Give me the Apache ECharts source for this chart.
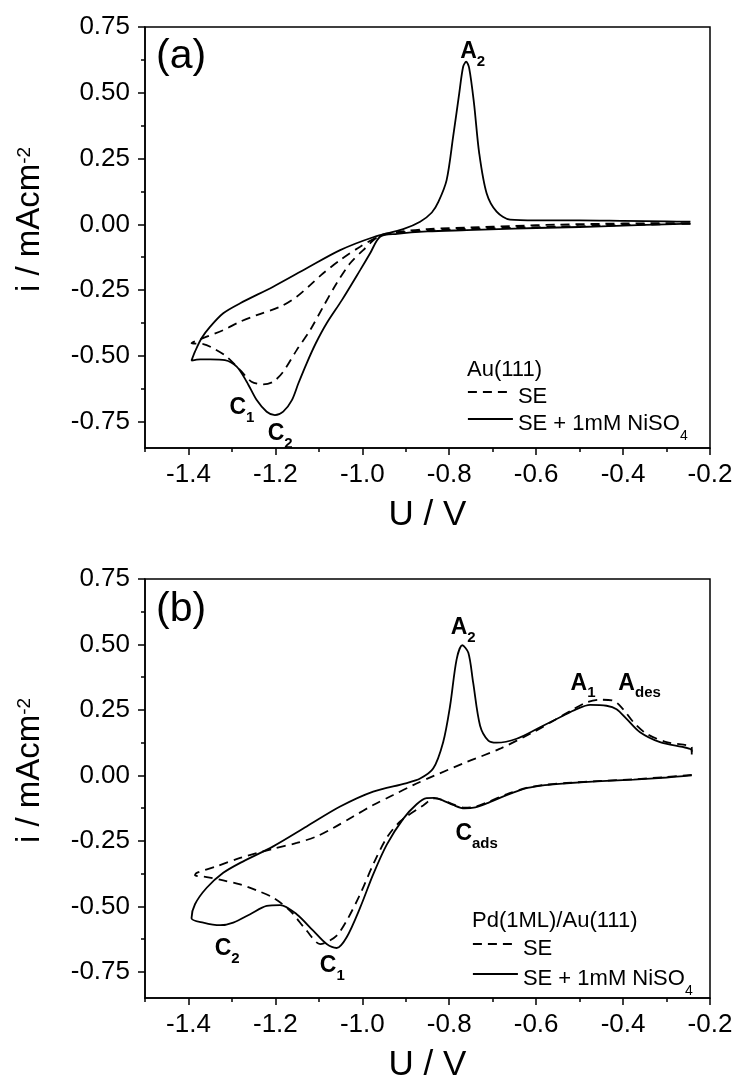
<!DOCTYPE html>
<html><head><meta charset="utf-8">
<script src="https://cdn.jsdelivr.net/npm/echarts@6/dist/echarts.min.js"></script>
<style>html,body{margin:0;padding:0;background:#fff}#c{width:736px;height:1084px}</style>
</head><body><div id="c"></div>
<script>
const FONT = "'Liberation Sans', Arial, Helvetica, sans-serif";

// ---- tick values / labels ----
const xMajorTicks = [-1.4, -1.2, -1.0, -0.8, -0.6, -0.4, -0.2];
const xMinorTicks = [-1.5, -1.3, -1.1, -0.9, -0.7, -0.5, -0.3];
const yMajorTicks = [-0.75, -0.5, -0.25, 0, 0.25, 0.5, 0.75];
const yMinorTicks = [-0.625, -0.375, -0.125, 0.125, 0.375, 0.625];
const xRange = [-1.5, -0.2];
const yRange = [-0.85, 0.75];

// ---- series names ----
const nameSE = 'SE';
const nameNi = 'SE + 1mM NiSO4';
const panelTitles = ['Au(111)', 'Pd(1ML)/Au(111)'];
const panelTags = ['(a)', '(b)'];

// ---- panel (a): Au(111), [U (V), i (mA cm^-2)] ----
const aSE = [
  [-0.245, 0.002], [-0.35, -0.001], [-0.45, -0.005], [-0.55, -0.009], [-0.65, -0.013],
  [-0.75, -0.018], [-0.85, -0.024], [-0.92, -0.032], [-0.959, -0.042], [-0.998, -0.098],
  [-1.028, -0.148], [-1.059, -0.224], [-1.090, -0.313], [-1.120, -0.402], [-1.151, -0.478],
  [-1.182, -0.560], [-1.205, -0.598], [-1.228, -0.608], [-1.255, -0.598], [-1.281, -0.554],
  [-1.312, -0.503], [-1.343, -0.471], [-1.366, -0.455], [-1.393, -0.452], [-1.358, -0.427],
  [-1.320, -0.402], [-1.281, -0.370], [-1.243, -0.345], [-1.189, -0.313], [-1.151, -0.275],
  [-1.120, -0.231], [-1.090, -0.186], [-1.051, -0.136], [-1.005, -0.085], [-0.959, -0.044],
  [-0.913, -0.028], [-0.85, -0.018], [-0.75, -0.012], [-0.65, -0.006], [-0.55, -0.001],
  [-0.45, 0.002], [-0.35, 0.004], [-0.245, 0.005]
];
const aNi = [
  [-0.245, 0.003], [-0.35, -0.002], [-0.45, -0.008], [-0.55, -0.012], [-0.65, -0.016],
  [-0.76, -0.022], [-0.85, -0.027], [-0.92, -0.036], [-0.959, -0.047], [-0.982, -0.110],
  [-1.005, -0.174], [-1.047, -0.288], [-1.082, -0.376], [-1.107, -0.452], [-1.128, -0.528],
  [-1.147, -0.604], [-1.162, -0.668], [-1.182, -0.712], [-1.201, -0.725],
  [-1.220, -0.712], [-1.243, -0.668], [-1.266, -0.598], [-1.289, -0.541], [-1.316, -0.516],
  [-1.350, -0.513], [-1.373, -0.513], [-1.393, -0.518], [-1.385, -0.484], [-1.370, -0.433],
  [-1.350, -0.389], [-1.320, -0.338], [-1.281, -0.300], [-1.205, -0.237], [-1.128, -0.167],
  [-1.051, -0.098], [-0.975, -0.049], [-0.906, -0.018], [-0.867, 0.010], [-0.840, 0.045],
  [-0.825, 0.085], [-0.806, 0.168], [-0.791, 0.333], [-0.777, 0.498], [-0.768, 0.599],
  [-0.761, 0.618], [-0.754, 0.593], [-0.743, 0.460], [-0.731, 0.270], [-0.714, 0.118],
  [-0.691, 0.048], [-0.660, 0.018], [-0.60, 0.015], [-0.50, 0.015], [-0.40, 0.013],
  [-0.30, 0.011], [-0.245, 0.010]
];

// ---- panel (b): Pd(1ML)/Au(111) ----
const bSE = [
  [-0.242, 0.002], [-0.30, -0.006], [-0.376, -0.015], [-0.45, -0.021], [-0.53, -0.029],
  [-0.58, -0.036], [-0.62, -0.047], [-0.668, -0.072], [-0.714, -0.104], [-0.740, -0.119],
  [-0.765, -0.123], [-0.791, -0.111], [-0.815, -0.094], [-0.835, -0.088], [-0.860, -0.115],
  [-0.913, -0.176], [-0.944, -0.239], [-0.975, -0.340], [-1.005, -0.454], [-1.036, -0.555],
  [-1.059, -0.612], [-1.082, -0.637], [-1.097, -0.644], [-1.128, -0.593], [-1.166, -0.517],
  [-1.205, -0.467], [-1.243, -0.439], [-1.281, -0.416], [-1.320, -0.401], [-1.358, -0.388],
  [-1.385, -0.381], [-1.381, -0.372], [-1.335, -0.347], [-1.281, -0.315], [-1.205, -0.280],
  [-1.151, -0.258], [-1.105, -0.233], [-1.067, -0.201], [-1.021, -0.157], [-0.975, -0.113],
  [-0.929, -0.075], [-0.883, -0.037], [-0.837, -0.003], [-0.760, 0.051], [-0.683, 0.102],
  [-0.607, 0.165], [-0.560, 0.209], [-0.514, 0.253], [-0.484, 0.279], [-0.453, 0.289],
  [-0.422, 0.285], [-0.400, 0.253], [-0.376, 0.203], [-0.346, 0.159], [-0.300, 0.127],
  [-0.242, 0.108], [-0.242, 0.090]
];
const bNi = [
  [-0.242, 0.000], [-0.30, -0.008], [-0.376, -0.016], [-0.45, -0.022], [-0.53, -0.030],
  [-0.58, -0.037], [-0.62, -0.048], [-0.668, -0.075], [-0.714, -0.107], [-0.740, -0.122],
  [-0.765, -0.126], [-0.791, -0.113], [-0.815, -0.095], [-0.835, -0.086], [-0.852, -0.087],
  [-0.875, -0.110], [-0.906, -0.166], [-0.944, -0.265], [-0.975, -0.378], [-1.005, -0.505],
  [-1.036, -0.618], [-1.059, -0.659], [-1.082, -0.644], [-1.113, -0.593], [-1.151, -0.530],
  [-1.189, -0.495], [-1.220, -0.498], [-1.258, -0.530], [-1.297, -0.562], [-1.327, -0.572],
  [-1.366, -0.562], [-1.393, -0.545], [-1.385, -0.492], [-1.358, -0.429], [-1.320, -0.372],
  [-1.281, -0.334], [-1.205, -0.271], [-1.128, -0.195], [-1.051, -0.119], [-0.975, -0.062],
  [-0.900, -0.030], [-0.867, -0.012], [-0.837, 0.026], [-0.814, 0.127], [-0.798, 0.266],
  [-0.783, 0.443], [-0.770, 0.497], [-0.756, 0.468], [-0.745, 0.355], [-0.729, 0.190],
  [-0.710, 0.133], [-0.691, 0.125], [-0.645, 0.140], [-0.591, 0.184], [-0.545, 0.222],
  [-0.507, 0.253], [-0.476, 0.269], [-0.438, 0.266], [-0.415, 0.253], [-0.392, 0.216],
  [-0.361, 0.165], [-0.315, 0.127], [-0.242, 0.095], [-0.242, 0.080]
];

// ---- peak annotations: [main, subscript, U, i] ----
const aPeaks = [
  ['A', '2', -0.746, 0.653],
  ['C', '1', -1.277, -0.700],
  ['C', '2', -1.189, -0.799]
];
const bPeaks = [
  ['A', '2', -0.768, 0.559],
  ['A', '1', -0.492, 0.348],
  ['A', 'des', -0.362, 0.348],
  ['C', 'ads', -0.737, -0.226],
  ['C', '2', -1.311, -0.666],
  ['C', '1', -1.069, -0.732]
];

// ---------------- build option ----------------
const BLACK = '#000';
const grids = [
  {left: 145, top: 27, width: 565, height: 421},
  {left: 145, top: 579, width: 565, height: 422}
].map(g => Object.assign(g, {show: true, borderColor: BLACK, borderWidth: 1.5, backgroundColor: 'transparent'}));

function xAxesFor(g) {
  return [
    {type: 'value', gridIndex: g, min: xRange[0], max: xRange[1], position: 'bottom',
     axisLine: {show: true, onZero: false, lineStyle: {color: BLACK, width: 1.5}},
     axisTick: {show: true, inside: false, length: 7, customValues: xMajorTicks, lineStyle: {color: BLACK, width: 1.5}},
     axisLabel: {show: true, customValues: xMajorTicks, margin: 14, fontSize: 26, color: BLACK, fontFamily: FONT,
                 formatter: v => v.toFixed(1)},
     splitLine: {show: false},
     name: 'U / V', nameLocation: 'middle', nameGap: 50,
     nameTextStyle: {fontSize: 35, color: BLACK, fontFamily: FONT}},
    {type: 'value', gridIndex: g, min: xRange[0], max: xRange[1], position: 'bottom',
     axisLine: {show: false, onZero: false},
     axisTick: {show: true, inside: false, length: 4, customValues: xMinorTicks, lineStyle: {color: BLACK, width: 1.5}},
     axisLabel: {show: false}, splitLine: {show: false}}
  ];
}
function yAxesFor(g) {
  return [
    {type: 'value', gridIndex: g, min: yRange[0], max: yRange[1], position: 'left',
     axisLine: {show: true, onZero: false, lineStyle: {color: BLACK, width: 1.5}},
     axisTick: {show: true, inside: false, length: 7, customValues: yMajorTicks, lineStyle: {color: BLACK, width: 1.5}},
     axisLabel: {show: true, customValues: yMajorTicks, margin: 15, fontSize: 26, color: BLACK, fontFamily: FONT,
                 formatter: v => v.toFixed(2)},
     splitLine: {show: false},
     name: '{t|i / mAcm}{s|-2}', nameLocation: 'middle', nameGap: 96,
     nameTextStyle: {color: BLACK, fontFamily: FONT, fontSize: 33, padding: [0, 0, 0, 36],
       rich: {t: {fontSize: 33, lineHeight: 38, fontFamily: FONT, color: BLACK},
              s: {fontSize: 19, lineHeight: 20, verticalAlign: 'top', padding: [4, 0, 0, 0], fontFamily: FONT, color: BLACK}}}},
    {type: 'value', gridIndex: g, min: yRange[0], max: yRange[1], position: 'left',
     axisLine: {show: false, onZero: false},
     axisTick: {show: true, inside: false, length: 4, customValues: yMinorTicks, lineStyle: {color: BLACK, width: 1.5}},
     axisLabel: {show: false}, splitLine: {show: false}}
  ];
}

const peakRich = {
  m: {fontSize: 23, fontWeight: 'bold', lineHeight: 25, verticalAlign: 'top', fontFamily: FONT, color: BLACK},
  s: {fontSize: 15, fontWeight: 'bold', lineHeight: 15, verticalAlign: 'top', padding: [14, 0, 0, 0], fontFamily: FONT, color: BLACK}
};
function peakMarks(list) {
  return {
    symbol: 'circle', symbolSize: 1, silent: true, animation: false,
    itemStyle: {color: 'rgba(0,0,0,0)'},
    label: {show: true, position: 'inside', color: BLACK, fontFamily: FONT, rich: peakRich},
    data: list.map(p => ({coord: [p[2], p[3]], label: {formatter: '{m|' + p[0] + '}{s|' + p[1] + '}'}}))
  };
}
function lineSeries(name, data, axisIdx, dashed, marks) {
  const s = {
    type: 'line', name: name, data: data, xAxisIndex: axisIdx, yAxisIndex: axisIdx,
    symbol: 'none', showSymbol: false, smooth: 0.3, animation: false, silent: true,
    lineStyle: {color: BLACK, width: 1.8, type: dashed ? [9, 6] : 'solid'},
    itemStyle: {color: BLACK}, z: dashed ? 3 : 4
  };
  if (marks) s.markPoint = peakMarks(marks);
  return s;
}

const legendRich = {
  t: {fontSize: 22, lineHeight: 24, verticalAlign: 'top', padding: [6, 0, 0, 0], fontFamily: FONT, color: BLACK},
  s: {fontSize: 14, lineHeight: 14, verticalAlign: 'top', padding: [22, 0, 0, 0], fontFamily: FONT, color: BLACK}
};
function legendItem(name, left, centerY) {
  return {
    data: [name], left: left, top: centerY - 18, padding: 0, orient: 'vertical',
    itemWidth: 45, itemHeight: 14, selectedMode: false,
    itemStyle: {color: 'rgba(0,0,0,0)', borderColor: 'rgba(0,0,0,0)', borderWidth: 0, opacity: 0},
    lineStyle: {color: BLACK, width: 1.8},
    formatter: n => n === nameNi ? '{t|SE + 1mM NiSO}{s|4}' : '{t|' + n + '}{s| }',
    textStyle: {color: BLACK, fontFamily: FONT, fontSize: 22, rich: legendRich}
  };
}

const option = {
  backgroundColor: '#fff',
  animation: false,
  grid: grids,
  xAxis: xAxesFor(0).concat(xAxesFor(1)),
  yAxis: yAxesFor(0).concat(yAxesFor(1)),
  title: [
    {text: panelTags[0], left: 156, top: 34, padding: 0, textStyle: {fontSize: 41, lineHeight: 46, fontWeight: 'normal', color: BLACK, fontFamily: FONT}},
    {text: panelTags[1], left: 156, top: 587, padding: 0, textStyle: {fontSize: 41, lineHeight: 46, fontWeight: 'normal', color: BLACK, fontFamily: FONT}},
    {text: panelTitles[0], left: 467, top: 358, padding: 0, textStyle: {fontSize: 22, lineHeight: 24, fontWeight: 'normal', color: BLACK, fontFamily: FONT}},
    {text: panelTitles[1], left: 472, top: 909, padding: 0, textStyle: {fontSize: 22, lineHeight: 24, fontWeight: 'normal', color: BLACK, fontFamily: FONT}}
  ],
  legend: [
    legendItem(nameSE, 467, 398),
    legendItem(nameNi, 467, 425),
    legendItem(nameSE, 472, 950),
    legendItem(nameNi, 472, 980)
  ],
  series: [
    lineSeries(nameSE, aSE, 0, true),
    lineSeries(nameNi, aNi, 0, false, aPeaks),
    lineSeries(nameSE, bSE, 2, true),
    lineSeries(nameNi, bNi, 2, false, bPeaks)
  ]
};

const chart = echarts.init(document.getElementById('c'), null, {renderer: 'canvas'});
chart.setOption(option);
</script>
</body></html>
